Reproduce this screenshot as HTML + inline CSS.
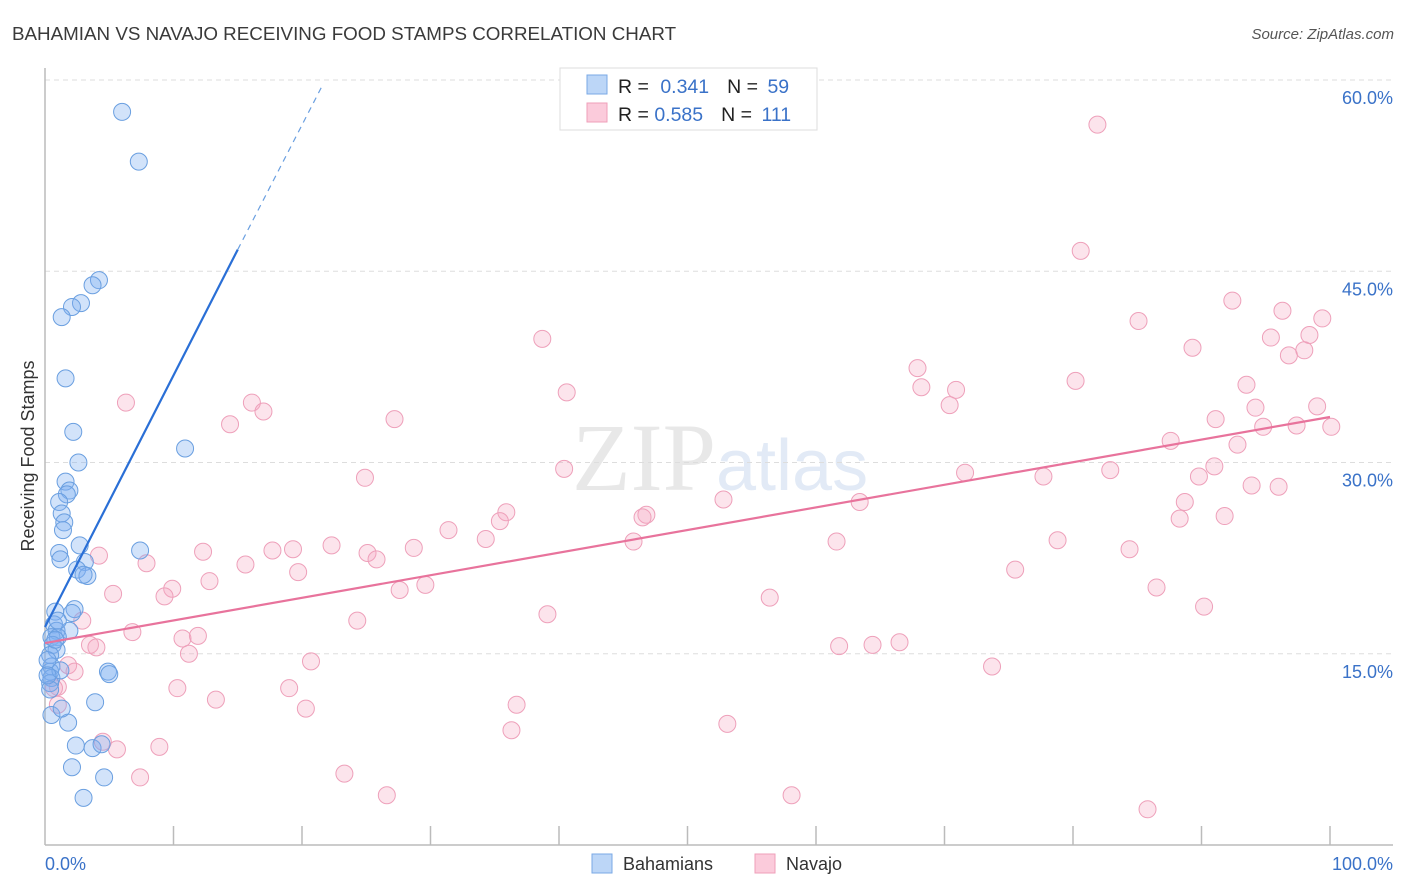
<!DOCTYPE html>
<html><head><meta charset="utf-8"><style>
body{margin:0;background:#fff;font-family:"Liberation Sans",sans-serif}
svg{display:block}
</style></head><body>
<svg id="c" width="1406" height="892" xmlns="http://www.w3.org/2000/svg">
<text x="12" y="40" font-size="18.8" fill="#3a3a3a">BAHAMIAN VS NAVAJO RECEIVING FOOD STAMPS CORRELATION CHART</text>
<text x="1394" y="39" font-size="15" fill="#555" font-style="italic" text-anchor="end">Source: ZipAtlas.com</text>
<text x="716" y="490" font-size="96" fill="#e8e8e8" text-anchor="end" font-family="Liberation Serif">ZIP</text>
<text x="716" y="490" font-size="72" fill="#e2eaf6">atlas</text>
<text transform="translate(34,456) rotate(-90)" font-size="18" fill="#333" text-anchor="middle">Receiving Food Stamps</text>
<g id="grid"></g><g id="marks"></g>
<g>
<rect x="560" y="68" width="257" height="62" fill="#fff" stroke="#ddd"/>
<rect x="587" y="75" width="20" height="19" fill="#bcd6f7" stroke="#7aa8e6"/>
<rect x="587" y="103" width="20" height="19" fill="#fbcbdb" stroke="#ef9fba"/>
<text x="618" y="93" font-size="19.5" fill="#222">R = <tspan fill="#3a72c8" dx="6">0.341</tspan><tspan dx="18">N = </tspan><tspan fill="#3a72c8" dx="4">59</tspan></text>
<text x="618" y="121" font-size="19.5" fill="#222">R = <tspan fill="#3a72c8">0.585</tspan><tspan dx="18">N = </tspan><tspan fill="#3a72c8" dx="4">111</tspan></text>
</g>
<rect x="592" y="854" width="20" height="19" fill="#bcd6f7" stroke="#7aa8e6"/>
<text x="623" y="870" font-size="18" fill="#333">Bahamians</text>
<rect x="755" y="854" width="20" height="19" fill="#fbcbdb" stroke="#ef9fba"/>
<text x="786" y="870" font-size="18" fill="#333">Navajo</text>
</svg>
<script>
const yTicks=[15,30,45,60];
const yTickLabels=["15.0%","30.0%","45.0%","60.0%"];
const xTickVals=[0,10,20,30,40,50,60,70,80,90,100];
const bahX=[6.0,7.3,4.2,3.7,2.8,2.1,1.3,1.6,2.2,10.9,2.6,1.6,1.9,1.7,1.1,1.3,1.5,1.4,2.7,7.4,1.1,1.2,3.1,2.5,3.3,3.0,0.8,2.3,2.1,0.7,0.9,1.9,0.5,1.0,0.6,0.9,0.4,0.5,4.9,5.0,0.4,0.5,0.4,3.9,0.5,1.8,2.4,3.7,4.4,2.1,4.6,3.0,1.3,0.8,0.2,0.4,1.2,0.2,1.0];
const bahY=[57.5,53.6,44.3,43.9,42.5,42.2,41.4,36.6,32.4,31.1,30.0,28.5,27.8,27.5,26.9,26.0,25.3,24.7,23.5,23.1,22.9,22.4,22.2,21.6,21.1,21.2,18.3,18.5,18.2,17.3,16.8,16.8,16.3,16.3,15.7,15.3,14.9,14.0,13.6,13.4,13.6,13.1,12.7,11.2,10.2,9.6,7.8,7.6,7.9,6.1,5.3,3.7,10.7,16.1,14.5,12.2,13.7,13.3,17.6];
const navX=[81.9,80.6,38.7,85.1,92.4,96.3,99.4,89.3,95.4,98.4,98.0,96.8,67.9,80.2,68.2,70.9,40.6,6.3,16.1,17.0,70.4,93.5,94.2,91.1,99.0,14.4,27.2,100.1,97.4,94.8,92.8,87.6,91.0,82.9,71.6,89.8,77.7,24.9,40.4,93.9,96.0,88.7,52.8,63.4,35.9,35.4,46.8,46.5,88.3,91.8,31.4,34.3,45.8,61.6,22.3,78.8,12.3,4.2,17.7,19.3,28.7,25.1,25.8,7.9,15.6,84.4,75.5,19.7,12.8,9.9,9.3,5.3,27.6,29.6,56.4,86.5,90.2,39.1,24.3,2.9,6.8,10.7,11.9,3.5,4.0,61.8,64.4,66.5,11.2,20.7,73.7,1.8,2.3,10.3,19.0,13.3,1.0,0.7,1.0,20.3,36.7,36.3,53.1,8.9,5.6,4.5,23.3,7.4,26.6,58.1,85.8];
const navY=[56.5,46.6,39.7,41.1,42.7,41.9,41.3,39.0,39.8,40.0,38.8,38.4,37.4,36.4,35.9,35.7,35.5,34.7,34.7,34.0,34.5,36.1,34.3,33.4,34.4,33.0,33.4,32.8,32.9,32.8,31.4,31.7,29.7,29.4,29.2,28.9,28.9,28.8,29.5,28.2,28.1,26.9,27.1,26.9,26.1,25.4,25.9,25.7,25.6,25.8,24.7,24.0,23.8,23.8,23.5,23.9,23.0,22.7,23.1,23.2,23.3,22.9,22.4,22.1,22.0,23.2,21.6,21.4,20.7,20.1,19.5,19.7,20.0,20.4,19.4,20.2,18.7,18.1,17.6,17.6,16.7,16.2,16.4,15.7,15.5,15.6,15.7,15.9,15.0,14.4,14.0,14.1,13.6,12.3,12.3,11.4,12.4,12.3,11.0,10.7,11.0,9.0,9.5,7.7,7.5,8.1,5.6,5.3,3.9,3.9,2.8];
const bahLine=[0,17.1,15.0,46.7,21.6,59.6];
const navLine=[0,15.84,100,33.57];
const NS="http://www.w3.org/2000/svg";
const sx=v=>45+v*12.85, sy=v=>845-v*12.75;
function mk(tag,attrs,parent){const e=document.createElementNS(NS,tag);for(const k in attrs)e.setAttribute(k,attrs[k]);parent.appendChild(e);return e;}
const grid=document.getElementById('grid'),marks=document.getElementById('marks');
yTicks.forEach((t,i)=>{
 const l=mk('line',{x1:45,x2:1393,y1:sy(t),y2:sy(t),stroke:'#ddd','stroke-dasharray':'5,4'},grid);
 
 
 const tx=mk('text',{x:1393,y:sy(t)+24,'font-size':18,fill:'#3a72c8','text-anchor':'end'},grid);
 tx.textContent=yTickLabels[i];
 
 
});
const ax=mk('line',{x1:45,x2:45,y1:68,y2:845,stroke:'#bbb','stroke-width':1.5},grid);


const bx=mk('line',{x1:45,x2:1393,y1:845,y2:845,stroke:'#bbb','stroke-width':1.5},grid);


xTickVals.forEach(v=>{if(v===0)return;
 const t=mk('line',{x1:sx(v),x2:sx(v),y1:826,y2:845,stroke:'#bbb','stroke-width':1.5},grid);
 
 
});
const x0=mk('text',{x:45,y:870,'font-size':18,fill:'#3a72c8'},grid);x0.textContent='0.0%';


const x1=mk('text',{x:1393,y:870,'font-size':18,fill:'#3a72c8','text-anchor':'end'},grid);x1.textContent='100.0%';


navX.forEach((v,i)=>{
 const c=mk('circle',{cx:sx(v),cy:sy(navY[i]),r:8.5,fill:'rgba(245,165,192,0.3)',stroke:'#eea0ba','stroke-width':1},marks);
 
 
});
bahX.forEach((v,i)=>{
 const c=mk('circle',{cx:sx(v),cy:sy(bahY[i]),r:8.5,fill:'rgba(125,175,240,0.35)',stroke:'#6a9fe0','stroke-width':1},marks);
 
 
});
const bl=mk('line',{x1:sx(bahLine[0]),y1:sy(bahLine[1]),x2:sx(bahLine[2]),y2:sy(bahLine[3]),stroke:'#2a6fd6','stroke-width':2.2},marks);


const bd=mk('line',{x1:sx(bahLine[2]),y1:sy(bahLine[3]),x2:sx(bahLine[4]),y2:sy(bahLine[5]),stroke:'#6a9fe0','stroke-width':1.2,'stroke-dasharray':'6,5'},marks);


const nl=mk('line',{x1:sx(navLine[0]),y1:sy(navLine[1]),x2:sx(navLine[2]),y2:sy(navLine[3]),stroke:'#e8739c','stroke-width':2.2},marks);


</script>
</body></html>
